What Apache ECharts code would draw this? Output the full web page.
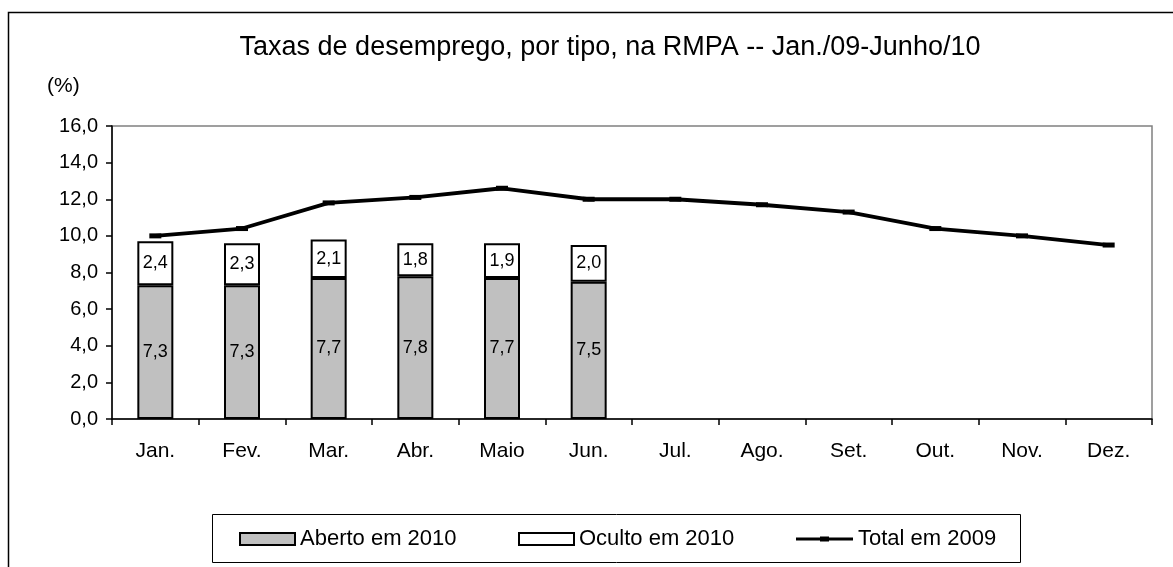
<!DOCTYPE html>
<html>
<head>
<meta charset="utf-8">
<script src="https://cdn.jsdelivr.net/npm/echarts@6/dist/echarts.min.js"></script>
<style>
html,body{margin:0;padding:0;background:#fff;}
#c{width:1173px;height:567px;}
</style>
</head>
<body>
<div id="c"></div>
<script>
var categories = ['Jan.', 'Fev.', 'Mar.', 'Abr.', 'Maio', 'Jun.', 'Jul.', 'Ago.', 'Set.', 'Out.', 'Nov.', 'Dez.'];
var aberto2010 = [7.3, 7.3, 7.7, 7.8, 7.7, 7.5, null, null, null, null, null, null];
var oculto2010 = [2.4, 2.3, 2.1, 1.8, 1.9, 2.0, null, null, null, null, null, null];
var total2009 = [10.0, 10.4, 11.8, 12.1, 12.6, 12.0, 12.0, 11.7, 11.3, 10.4, 10.0, 9.5];
var yTicks = [0, 2, 4, 6, 8, 10, 12, 14, 16];

var FONT = '"Liberation Sans", Arial, sans-serif';
function fmt(v) { return Number(v).toFixed(1).replace('.', ','); }

var chart = echarts.init(document.getElementById('c'));
var legendText = { fontFamily: FONT, fontSize: 22, color: '#000' };
chart.setOption({
  animation: false,
  backgroundColor: '#fff',
  title: {
    text: 'Taxas de desemprego, por tipo, na RMPA -- Jan./09-Junho/10',
    left: 605, top: 29, textAlign: 'center',
    textStyle: { fontFamily: FONT, fontSize: 27, fontWeight: 'normal', color: '#000' }
  },
  graphic: [
    { type: 'rect', shape: { x: 8.5, y: 12.5, width: 1300, height: 700 }, style: { fill: null, stroke: '#000', lineWidth: 1.5 }, silent: true, z: -10 },
    { type: 'text', left: 47, top: 76, style: { text: '(%)', fontFamily: FONT, fontSize: 21, fill: '#000' } },
    { type: 'rect', shape: { x: 212.5, y: 514.5, width: 808, height: 48 }, style: { fill: null, stroke: '#000', lineWidth: 1 }, silent: true }
  ],
  legend: [
    { data: ['Aberto em 2010'], icon: 'rect', left: 239, top: 528, itemWidth: 55, itemHeight: 12, itemGap: 0, padding: 0, textStyle: legendText },
    { data: ['Oculto em 2010'], icon: 'rect', left: 518, top: 528, itemWidth: 55, itemHeight: 12, itemGap: 0, padding: 0, textStyle: legendText },
    { data: ['Total em 2009'], icon: 'path://M0,4.5L57,4.5L57,7.5L0,7.5Z M24,3.5L33,3.5L33,8.5L24,8.5Z', left: 796, top: 528, itemWidth: 57, itemHeight: 5, itemGap: 0, padding: 0, textStyle: legendText }
  ],
  grid: { left: 112, right: 21, top: 126, bottom: 148, show: true, borderColor: '#808080', borderWidth: 1.5 },
  xAxis: {
    type: 'category', data: categories, boundaryGap: true,
    axisLine: { lineStyle: { color: '#000', width: 1.5 } },
    axisTick: { show: true, alignWithLabel: false, length: 6, lineStyle: { color: '#000', width: 1.5 } },
    axisLabel: { fontFamily: FONT, fontSize: 21, color: '#000', margin: 22 }
  },
  yAxis: {
    type: 'value', min: 0, max: 16, interval: 2,
    axisLine: { show: true, lineStyle: { color: '#000', width: 1.5 } },
    axisTick: { show: true, length: 6, lineStyle: { color: '#000', width: 1.5 } },
    splitLine: { show: false },
    axisLabel: { fontFamily: FONT, fontSize: 20, color: '#000', margin: 14, formatter: function (v) { return fmt(v); } }
  },
  series: [
    {
      name: 'Aberto em 2010', type: 'bar', stack: 's', data: aberto2010, barWidth: 36,
      itemStyle: { color: '#c0c0c0', borderColor: '#000', borderWidth: 2 },
      label: { show: true, position: 'inside', fontFamily: FONT, fontSize: 18, color: '#000', formatter: function (p) { return fmt(p.value); } }
    },
    {
      name: 'Oculto em 2010', type: 'bar', stack: 's', data: oculto2010, barWidth: 36,
      itemStyle: { color: '#fff', borderColor: '#000', borderWidth: 2 },
      label: { show: true, position: 'inside', fontFamily: FONT, fontSize: 18, color: '#000', formatter: function (p) { return fmt(p.value); } }
    },
    {
      name: 'Total em 2009', type: 'line', data: total2009,
      lineStyle: { color: '#000', width: 3.8 },
      itemStyle: { color: '#000' },
      symbol: 'rect', symbolSize: [12, 5], showSymbol: true,
      z: 5
    }
  ]
});
</script>
</body>
</html>
